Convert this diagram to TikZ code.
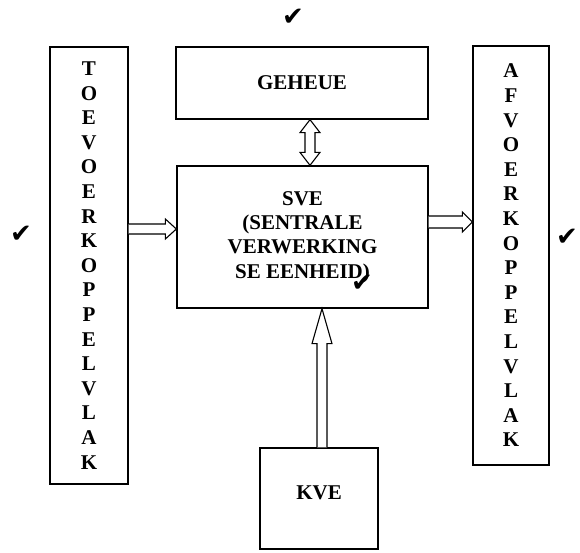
\documentclass[tikz,border=0pt]{standalone}
\usepackage{fontspec}
\setmainfont{Liberation Serif}
\newfontfamily\symfont{DejaVu Sans}
\usetikzlibrary{calc}
\begin{document}
\begin{tikzpicture}[x=1pt,y=-1pt,
  box/.style={draw,line width=1.3pt,rectangle,inner sep=0pt,align=center,
    font=\bfseries\fontsize{21}{24.2}\selectfont},
  barrow/.style={draw,line width=1.1pt,fill=white,line join=miter},
  tick/.style={font=\symfont\fontsize{26}{26}\selectfont,inner sep=0pt}]
\useasboundingbox (0,0) rectangle (580,552);
% boxes
\node[box,minimum width=78pt,minimum height=437pt,
  font=\bfseries\fontsize{21}{24.6}\selectfont] (toe) at (89,265.5)
  {T\\O\\E\\V\\O\\E\\R\\K\\O\\P\\P\\E\\L\\V\\L\\A\\K};
\node[box,minimum width=252pt,minimum height=72pt] (geh) at (302,83) {GEHEUE};
\node[box,minimum width=251pt,minimum height=142pt] (sve) at (302.5,237)
  {SVE\\(SENTRALE\\VERWERKING\\SE EENHEID)};
\node[box,minimum width=76pt,minimum height=419pt,
  font=\bfseries\fontsize{21}{24.6}\selectfont] (afv) at (511,255.5)
  {A\\F\\V\\O\\E\\R\\K\\O\\P\\P\\E\\L\\V\\L\\A\\K};
\node[box,minimum width=118pt,minimum height=101pt] (kve) at (319,498.5)
  {\raisebox{11pt}{KVE}};
% anchor points for block arrows
\path (toe.east) ++(0,-36.5) coordinate (a1);
\coordinate (b1) at (sve.west |- a1);
\path (sve.east) ++(0,-15) coordinate (a2);
\coordinate (b2) at (afv.west |- a2);
\path (geh.south) ++(8,0) coordinate (a3);
\coordinate (b3) at (sve.north -| a3);
\path (kve.north) ++(3,0) coordinate (a4);
\coordinate (b4) at (sve.south -| a4);
% left arrow
\draw[barrow] ($(a1)+(0,5)$) -- ($(b1)+(-11,5)$) -- ($(b1)+(-11,10)$) -- (b1)
  -- ($(b1)+(-11,-10)$) -- ($(b1)+(-11,-5)$) -- ($(a1)+(0,-5)$);
% right arrow
\draw[barrow] ($(a2)+(0,6)$) -- ($(b2)+(-10,6)$) -- ($(b2)+(-10,10)$) -- (b2)
  -- ($(b2)+(-10,-10)$) -- ($(b2)+(-10,-6)$) -- ($(a2)+(0,-6)$);
% double arrow
\draw[barrow] (a3) -- ($(a3)+(10,13)$) -- ($(a3)+(5,13)$) -- ($(b3)+(5,-13)$)
  -- ($(b3)+(10,-13)$) -- (b3) -- ($(b3)+(-10,-13)$) -- ($(b3)+(-5,-13)$)
  -- ($(a3)+(-5,13)$) -- ($(a3)+(-10,13)$) -- cycle;
% bottom arrow
\draw[barrow] ($(a4)+(5,0)$) -- ($(b4)+(5,35)$) -- ($(b4)+(10,35)$) -- (b4)
  -- ($(b4)+(-10,35)$) -- ($(b4)+(-5,35)$) -- ($(a4)+(-5,0)$);
% ticks
\node[tick] (t1) at (293,17) {✔};
\node[tick] (t2) at (21,234) {✔};
\node[tick] (t3) at (567,237) {✔};
\node[tick] (t4) at (362,283) {✔};
\end{tikzpicture}
\end{document}
